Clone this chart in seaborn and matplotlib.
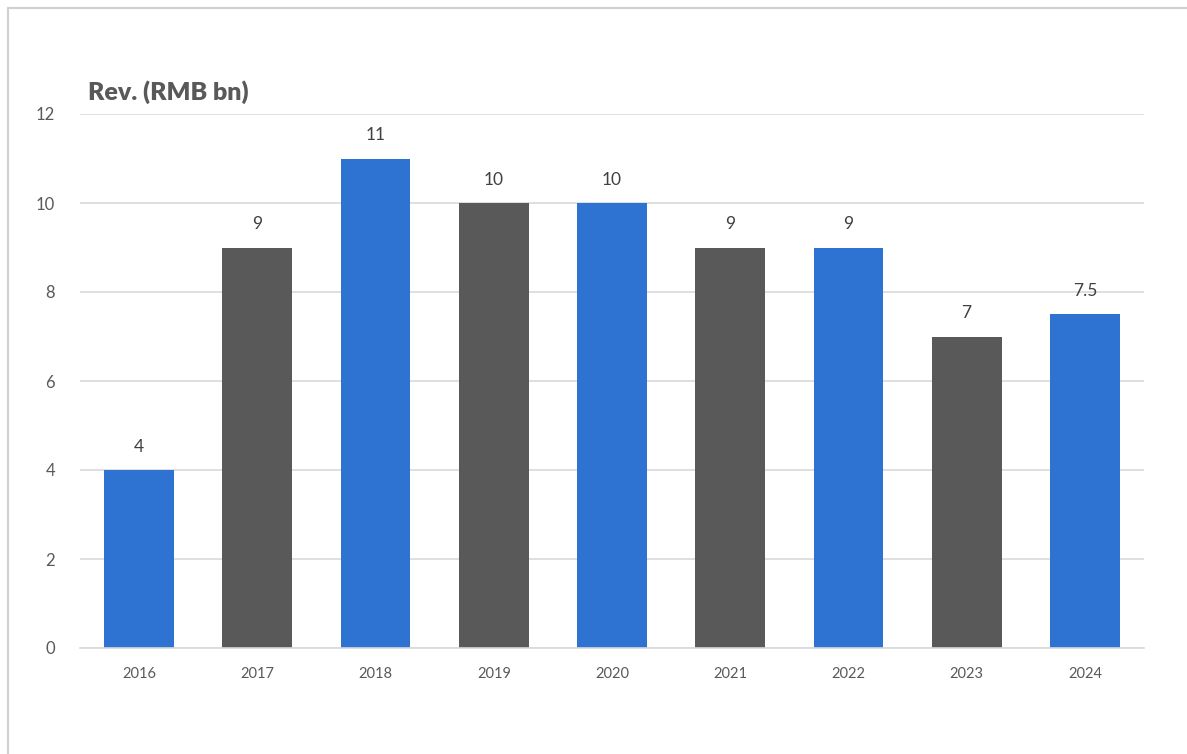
import matplotlib
matplotlib.use("Agg")
import matplotlib.pyplot as plt
import seaborn as sns
import pandas as pd
from matplotlib.patches import Rectangle

years = ["2016", "2017", "2018", "2019", "2020", "2021", "2022", "2023", "2024"]
revenue = [4, 9, 11, 10, 10, 9, 9, 7, 7.5]
labels = ["4", "9", "11", "10", "10", "9", "9", "7", "7.5"]
bar_colors = ["#2E72D2", "#595959", "#2E72D2", "#595959", "#2E72D2",
              "#595959", "#2E72D2", "#595959", "#2E72D2"]

df = pd.DataFrame({"year": years, "rev": revenue})

sns.set_theme(style="white")
plt.rcParams["font.family"] = ["Lato", "DejaVu Sans"]

fig = plt.figure(figsize=(11.87, 7.54), dpi=100)
fig.patches.append(Rectangle((8 / 1187, -0.01), 1.0, 1 - 8 / 754 + 0.01,
                             transform=fig.transFigure, fill=False,
                             edgecolor="#D0D0D0", linewidth=1.5))
ax = fig.add_axes([80 / 1187, 1 - 648 / 754, (1144 - 80) / 1187, (648 - 114) / 754])

sns.barplot(data=df, x="year", y="rev", hue="year", palette=bar_colors,
            legend=False, width=0.59, ax=ax, saturation=1, linewidth=0)

ax.set_ylim(0, 12)
ax.set_xlim(-0.5, 8.5)
ax.set_yticks([0, 2, 4, 6, 8, 10, 12])
ax.yaxis.grid(True, color="#D9D9D9", linewidth=1.2)
ax.set_axisbelow(True)
for s in ["top", "right", "left"]:
    ax.spines[s].set_visible(False)
ax.spines["bottom"].set_color("#D9D9D9")
ax.spines["bottom"].set_linewidth(1.2)
ax.set_xlabel("")
ax.set_ylabel("")
ax.tick_params(axis="y", length=0, labelsize=12, labelcolor="#595959", pad=18)
ax.tick_params(axis="x", length=0, labelsize=10.5, labelcolor="#595959", pad=14)

for i, (v, t) in enumerate(zip(revenue, labels)):
    ax.annotate(t, (i, v), xytext=(0, 11), textcoords="offset points",
                ha="center", va="bottom", fontsize=12.5, color="#404040")

fig.text(88 / 1187, 1 - 92 / 754, "Rev. (RMB bn)", fontsize=18, fontweight="heavy",
         color="#595959", ha="left", va="center")

fig.savefig("out.png", dpi=100)
